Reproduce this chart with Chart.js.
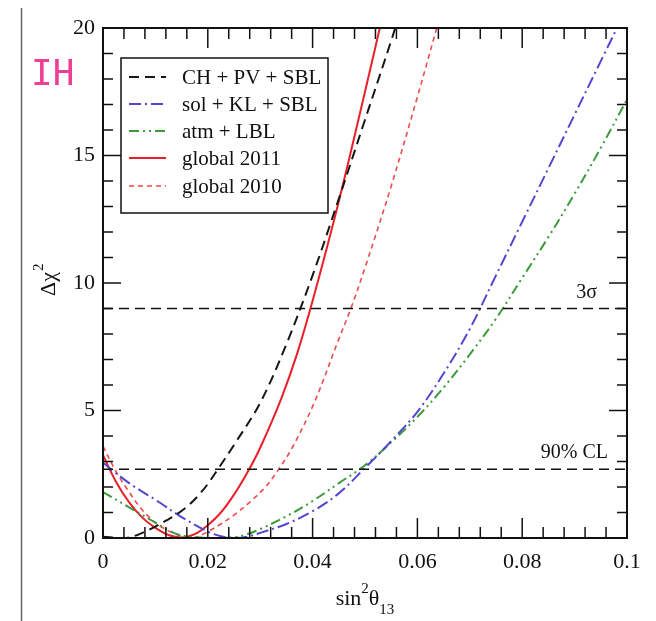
<!DOCTYPE html>
<html>
<head>
<meta charset="utf-8">
<script src="https://cdn.jsdelivr.net/npm/chart.js@4.4.1/dist/chart.umd.min.js"></script>
<style>
  body { margin: 0; background: #fff; }
  #wrap { width: 656px; height: 621px; }
</style>
</head>
<body>
<div id="wrap"><canvas id="chi2" width="656" height="621"></canvas></div>
<script>
// Δχ² profiles vs sin²θ13, inverted hierarchy
const xTicks = [0, 0.02, 0.04, 0.06, 0.08, 0.1];
const yTicks = [0, 5, 10, 15, 20];

const chPvX = [0, 0.004, 0.006, 0.008, 0.01, 0.012, 0.014, 0.016, 0.018, 0.02, 0.022, 0.025, 0.03, 0.035, 0.04, 0.045, 0.05, 0.055, 0.0565];
const chPvY = [0.05, 0.0, 0.08, 0.25, 0.45, 0.68, 0.92, 1.22, 1.62, 2.12, 2.72, 3.65, 5.3, 7.6, 10.3, 13.3, 16.4, 19.5, 20.5];

const solKlX = [0, 0.005, 0.01, 0.015, 0.02, 0.0225, 0.025, 0.0275, 0.03, 0.035, 0.04, 0.045, 0.05, 0.055, 0.06, 0.065, 0.07, 0.075, 0.08, 0.085, 0.09, 0.095, 0.1];
const solKlY = [2.95, 2.15, 1.5, 0.82, 0.25, 0.07, 0.0, 0.05, 0.2, 0.55, 1.05, 1.75, 2.75, 3.8, 4.95, 6.45, 8.2, 10.3, 12.4, 14.5, 16.6, 18.7, 20.8];

const atmX = [0, 0.005, 0.01, 0.0125, 0.015, 0.02, 0.025, 0.0275, 0.03, 0.035, 0.04, 0.045, 0.05, 0.055, 0.06, 0.065, 0.07, 0.075, 0.08, 0.085, 0.09, 0.095, 0.1];
const atmY = [1.8, 1.2, 0.6, 0.3, 0.1, 0.0, 0.03, 0.15, 0.35, 0.85, 1.45, 2.15, 2.85, 3.75, 4.75, 5.9, 7.2, 8.6, 10.2, 11.8, 13.5, 15.3, 17.2];

const glob11X = [0, 0.0025, 0.005, 0.0075, 0.01, 0.0125, 0.015, 0.0175, 0.02, 0.0225, 0.025, 0.0279, 0.03, 0.034, 0.037, 0.04, 0.045, 0.05, 0.0535];
const glob11Y = [3.25, 2.2, 1.4, 0.8, 0.4, 0.12, 0.02, 0.15, 0.5, 1.0, 1.7, 2.7, 3.54, 5.46, 7.2, 9.3, 13.2, 17.5, 20.6];

const glob10X = [0, 0.0025, 0.005, 0.0075, 0.01, 0.0125, 0.015, 0.0175, 0.02, 0.0225, 0.025, 0.028, 0.031, 0.0332, 0.036, 0.0403, 0.045, 0.0473, 0.05, 0.055, 0.06, 0.0645];
const glob10Y = [3.6, 2.6, 1.8, 1.1, 0.6, 0.28, 0.08, 0.02, 0.25, 0.55, 0.9, 1.4, 2.0, 2.6, 3.5, 5.3, 7.8, 9.0, 10.6, 13.8, 17.3, 20.6];

const seriesNames = ['CH + PV + SBL', 'sol + KL + SBL', 'atm + LBL', 'global 2011', 'global 2010'];

// confidence levels drawn as horizontal lines
const clValues = [2.7, 9];
const clLabels = ['90% CL', '3σ'];

const SERIF = '"Liberation Serif", "Times New Roman", serif';

function pts(xs, ys) {
  return xs.map((x, i) => ({ x: x, y: ys[i] }));
}

const styles = [
  { color: '#161616', dash: [10, 6], width: 2 },
  { color: '#5447cf', dash: [12, 4, 2, 4], width: 2 },
  { color: '#3b9a3b', dash: [10, 4, 2, 4, 2, 4], width: 2 },
  { color: '#e8202a', dash: [], width: 2 },
  { color: '#f04a4a', dash: [5, 4], width: 1.6 }
];

const curveData = [pts(chPvX, chPvY), pts(solKlX, solKlY), pts(atmX, atmY), pts(glob11X, glob11Y), pts(glob10X, glob10Y)];

const datasets = [];
clValues.forEach((v, i) => {
  datasets.push({
    label: clLabels[i],
    data: [{ x: 0, y: v }, { x: 0.1, y: v }],
    borderColor: '#111',
    borderWidth: 1.5,
    borderDash: [10, 6],
    pointRadius: 0,
    isRef: true
  });
});
curveData.forEach((d, i) => {
  datasets.push({
    label: seriesNames[i],
    data: d,
    borderColor: styles[i].color,
    borderWidth: styles[i].width,
    borderDash: styles[i].dash,
    pointRadius: 0,
    tension: 0.35,
    fill: false
  });
});

// frame, inward ticks, legend box and text annotations
const framePlugin = {
  id: 'frame',
  afterDraw(chart) {
    const ctx = chart.ctx;
    const a = chart.chartArea;
    const xs = chart.scales.x;
    const ys = chart.scales.y;
    ctx.save();

    // ticks on all four sides
    ctx.strokeStyle = '#111';
    ctx.lineWidth = 1.5;
    ctx.beginPath();
    for (let i = 0; i <= 25; i++) {
      const px = xs.getPixelForValue(i * 0.004);
      const len = i % 5 === 0 ? 20 : 11;
      ctx.moveTo(px, a.bottom); ctx.lineTo(px, a.bottom - len);
      ctx.moveTo(px, a.top); ctx.lineTo(px, a.top + len);
    }
    for (let j = 0; j <= 20; j++) {
      const py = ys.getPixelForValue(j);
      const len = j % 5 === 0 ? 18 : 10;
      ctx.moveTo(a.left, py); ctx.lineTo(a.left + len, py);
      ctx.moveTo(a.right, py); ctx.lineTo(a.right - len, py);
    }
    ctx.stroke();

    ctx.lineWidth = 2;
    ctx.strokeRect(a.left, a.top, a.right - a.left, a.bottom - a.top);

    // CL labels
    ctx.fillStyle = '#111';
    ctx.font = '20px ' + SERIF;
    ctx.textAlign = 'right';
    ctx.textBaseline = 'alphabetic';
    ctx.fillText(clLabels[1], a.right - 30, ys.getPixelForValue(clValues[1]) - 11);
    ctx.fillText(clLabels[0], a.right - 19, ys.getPixelForValue(clValues[0]) - 11);

    // legend
    const lx = a.left + 18, ly = a.top + 30;
    ctx.fillStyle = '#fff';
    ctx.fillRect(lx, ly, 207, 155);
    ctx.strokeStyle = '#111';
    ctx.lineWidth = 1.5;
    ctx.strokeRect(lx, ly, 207, 155);
    const rows = [19, 46, 73, 100, 128];
    chart.data.datasets.filter(d => !d.isRef).forEach((d, i) => {
      const cy = ly + rows[i];
      ctx.save();
      ctx.strokeStyle = d.borderColor;
      ctx.lineWidth = d.borderWidth;
      ctx.setLineDash(d.borderDash);
      ctx.beginPath();
      ctx.moveTo(lx + 8, cy);
      ctx.lineTo(lx + 45, cy);
      ctx.stroke();
      ctx.restore();
      ctx.fillStyle = '#111';
      ctx.font = '21px ' + SERIF;
      ctx.textAlign = 'left';
      ctx.textBaseline = 'middle';
      ctx.fillText(d.label, lx + 61, cy + 1);
    });

    // x axis title: sin²θ13
    ctx.fillStyle = '#111';
    ctx.textBaseline = 'alphabetic';
    ctx.textAlign = 'left';
    const big = '22px ' + SERIF, small = '15px ' + SERIF;
    ctx.font = big; const wSin = ctx.measureText('sin').width; const wTh = ctx.measureText('θ').width;
    ctx.font = small; const w2 = ctx.measureText('2').width; const w13 = ctx.measureText('13').width;
    let tx = (a.left + a.right) / 2 - (wSin + w2 + wTh + w13) / 2;
    const by = a.bottom + 67;
    ctx.font = big; ctx.fillText('sin', tx, by); tx += wSin;
    ctx.font = small; ctx.fillText('2', tx, by - 12); tx += w2;
    ctx.font = big; ctx.fillText('θ', tx, by); tx += wTh;
    ctx.font = small; ctx.fillText('13', tx, by + 9);

    // y axis title: Δχ²
    ctx.save();
    ctx.translate(55, (a.top + a.bottom) / 2 + 1);
    ctx.rotate(-Math.PI / 2);
    ctx.font = big;
    ctx.textAlign = 'center';
    const wDc = ctx.measureText('Δχ').width;
    ctx.fillText('Δχ', 0, 0);
    ctx.font = small;
    ctx.textAlign = 'left';
    ctx.fillText('2', wDc / 2 + 1, -12);
    ctx.restore();

    // hierarchy tag and left rule
    ctx.fillStyle = '#ee3f94';
    ctx.font = '36px "DejaVu Sans Mono", monospace';
    ctx.textAlign = 'left';
    ctx.fillText('IH', 31, 85);
    ctx.strokeStyle = '#666';
    ctx.lineWidth = 1.5;
    ctx.beginPath();
    ctx.moveTo(21.5, 8);
    ctx.lineTo(21.5, 621);
    ctx.stroke();

    ctx.restore();
  }
};

new Chart(document.getElementById('chi2').getContext('2d'), {
  type: 'line',
  data: { datasets: datasets },
  options: {
    responsive: false,
    animation: false,
    layout: { padding: { left: 0, right: 29, top: 28, bottom: 0 } },
    plugins: { legend: { display: false }, tooltip: { enabled: false } },
    scales: {
      x: {
        type: 'linear',
        min: 0, max: 0.1,
        grid: { display: false },
        border: { display: false },
        afterBuildTicks: s => { s.ticks = xTicks.map(v => ({ value: v })); },
        afterFit: s => { s.height = 83; },
        ticks: {
          padding: 3,
          color: '#111',
          font: { family: SERIF, size: 22 },
          callback: v => String(Math.round(v * 100) / 100)
        }
      },
      y: {
        min: 0, max: 20,
        grid: { display: false },
        border: { display: false },
        afterBuildTicks: s => { s.ticks = yTicks.map(v => ({ value: v })); },
        afterFit: s => { s.width = 103; },
        ticks: {
          padding: 0,
          color: '#111',
          font: { family: SERIF, size: 22 }
        }
      }
    }
  },
  plugins: [framePlugin]
});
</script>
</body>
</html>
